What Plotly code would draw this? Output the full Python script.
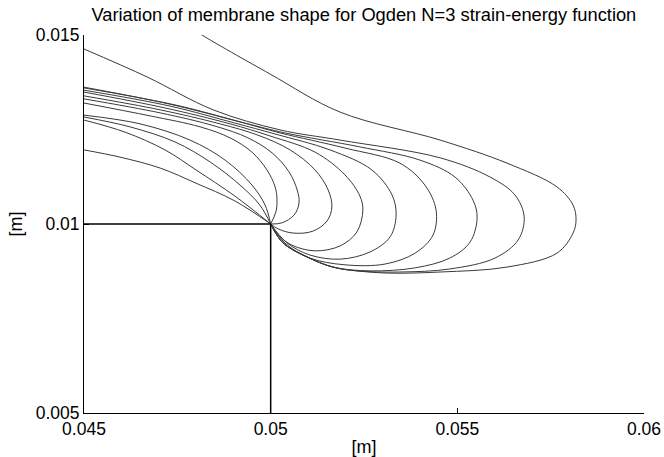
import plotly.graph_objects as go

# Membrane profiles (x [m], y [m]) for increasing inflation
c1_x = [0.04500, 0.04596, 0.04704, 0.04800, 0.04904, 0.05000]
c1_y = [0.01196, 0.01177, 0.01148, 0.01108, 0.01061, 0.01000]

c2_x = [0.04500, 0.04610, 0.04717, 0.04800, 0.04904, 0.05000]
c2_y = [0.01275, 0.01243, 0.01196, 0.01143, 0.01074, 0.01000]

c3_x = [0.04500, 0.04623, 0.04744, 0.04838, 0.04918, 0.04971, 0.05000]
c3_y = [0.01283, 0.01257, 0.01217, 0.01164, 0.01103, 0.01050, 0.01000]

c4_x = [0.04500, 0.04650, 0.04784, 0.04878, 0.04950, 0.04985, 0.05000]
c4_y = [0.01288, 0.01265, 0.01222, 0.01169, 0.01103, 0.01050, 0.01000]

c5_x = [0.04500, 0.04677, 0.04811, 0.04891, 0.04950, 0.04990, 0.05012, 0.05017, 0.05014, 0.05000]
c5_y = [0.01320, 0.01286, 0.01257, 0.01228, 0.01190, 0.01143, 0.01098, 0.01063, 0.01032, 0.01000]

c6_x = [0.04500, 0.04704, 0.04851, 0.04939, 0.05004, 0.05049, 0.05071, 0.05076, 0.05063,
        0.05030, 0.05000]
c6_y = [0.01331, 0.01294, 0.01259, 0.01228, 0.01188, 0.01138, 0.01090, 0.01056, 0.01024,
        0.01003, 0.01000]

c7_x = [0.04500, 0.04704, 0.04864, 0.04966, 0.05052, 0.05119, 0.05154, 0.05164, 0.05151,
        0.05113, 0.05060, 0.05020, 0.05000]
c7_y = [0.01339, 0.01302, 0.01265, 0.01235, 0.01196, 0.01143, 0.01090, 0.01045, 0.01008,
        0.00981, 0.00976, 0.00987, 0.01000]

c8_x = [0.04500, 0.04717, 0.04891, 0.04998, 0.05119, 0.05199, 0.05239, 0.05247, 0.05231,
        0.05186, 0.05119, 0.05057, 0.05020, 0.05000]
c8_y = [0.01349, 0.01307, 0.01265, 0.01233, 0.01190, 0.01130, 0.01074, 0.01037, 0.00979,
        0.00942, 0.00929, 0.00944, 0.00971, 0.01000]

c9_x = [0.04500, 0.04730, 0.04904, 0.05012, 0.05159, 0.05271, 0.05325, 0.05336, 0.05320,
        0.05266, 0.05186, 0.05105, 0.05044, 0.05000]
c9_y = [0.01354, 0.01312, 0.01267, 0.01238, 0.01196, 0.01143, 0.01077, 0.01024, 0.00966,
        0.00926, 0.00907, 0.00918, 0.00950, 0.01000]

c10_x = [0.04500, 0.04730, 0.04918, 0.05025, 0.05199, 0.05346, 0.05413, 0.05443, 0.05435,
         0.05387, 0.05306, 0.05199, 0.05105, 0.05038, 0.05000]
c10_y = [0.01362, 0.01317, 0.01270, 0.01241, 0.01201, 0.01161, 0.01103, 0.01037, 0.00971,
         0.00923, 0.00894, 0.00892, 0.00910, 0.00950, 0.01000]

c11_x = [0.04500, 0.04744, 0.04931, 0.05038, 0.05239, 0.05400, 0.05494, 0.05542, 0.05553,
         0.05534, 0.05480, 0.05387, 0.05266, 0.05167, 0.05097, 0.05033, 0.05000]
c11_y = [0.01360, 0.01315, 0.01267, 0.01241, 0.01204, 0.01169, 0.01124, 0.01063, 0.01016,
         0.00952, 0.00910, 0.00884, 0.00876, 0.00886, 0.00913, 0.00950, 0.01000]

c12_x = [0.04500, 0.04669, 0.04846, 0.05025, 0.05186, 0.05454, 0.05588, 0.05654, 0.05679,
         0.05663, 0.05601, 0.05480, 0.05346, 0.05231, 0.05167, 0.05097, 0.05033, 0.05000]
c12_y = [0.01463, 0.01389, 0.01302, 0.01249, 0.01222, 0.01175, 0.01124, 0.01077, 0.01019,
         0.00958, 0.00910, 0.00881, 0.00873, 0.00876, 0.00886, 0.00913, 0.00950, 0.01000]

c13_x = [0.04797, 0.04816, 0.04998, 0.05186, 0.05454, 0.05633, 0.05767, 0.05810, 0.05818,
         0.05810, 0.05767, 0.05633, 0.05454, 0.05320, 0.05231, 0.05167, 0.05097, 0.05033, 0.05000]
c13_y = [0.01513, 0.01500, 0.01397, 0.01296, 0.01222, 0.01161, 0.01098, 0.01050, 0.01011,
         0.00976, 0.00923, 0.00886, 0.00873, 0.00870, 0.00876, 0.00886, 0.00913, 0.00950, 0.01000]

curves = [(c1_x, c1_y), (c2_x, c2_y), (c3_x, c3_y), (c4_x, c4_y), (c5_x, c5_y),
          (c6_x, c6_y), (c7_x, c7_y), (c8_x, c8_y), (c9_x, c9_y), (c10_x, c10_y),
          (c11_x, c11_y), (c12_x, c12_y), (c13_x, c13_y)]

# Clamp / support lines
clamp_h_x = [0.045, 0.05]
clamp_h_y = [0.01, 0.01]
clamp_v_x = [0.05, 0.05]
clamp_v_y = [0.005, 0.01]

x_ticks = [0.045, 0.05, 0.055, 0.06]
x_ticktext = ["0.045", "0.05", "0.055", "0.06"]
y_ticks = [0.005, 0.01, 0.015]
y_ticktext = ["0.005", "0.01", "0.015"]

FONT = "Liberation Sans, Arial, sans-serif"

fig = go.Figure()
for cx, cy in curves:
    fig.add_trace(go.Scatter(x=cx, y=cy, mode="lines",
                             line=dict(color="#3a3a3a", width=1, shape="spline", smoothing=1.0),
                             showlegend=False, hoverinfo="skip"))
fig.add_trace(go.Scatter(x=clamp_h_x, y=clamp_h_y, mode="lines",
                         line=dict(color="black", width=1.5), showlegend=False))
fig.add_trace(go.Scatter(x=clamp_v_x, y=clamp_v_y, mode="lines",
                         line=dict(color="black", width=1.5), showlegend=False))

fig.update_layout(
    width=664, height=457,
    margin=dict(l=84, r=20, t=35, b=44),
    paper_bgcolor="white", plot_bgcolor="white",
    font=dict(family=FONT, size=17.5, color="black"),
    title=dict(text="Variation of membrane shape for Ogden N=3 strain-energy function",
               x=0.548, xref="container", xanchor="center",
               y=0.967, yref="container", yanchor="middle",
               font=dict(family=FONT, size=18.3, color="black")),
    xaxis=dict(range=[0.045, 0.06], tickvals=x_ticks, ticktext=x_ticktext,
               ticks="inside", ticklen=5, tickcolor="black",
               showline=True, linecolor="black", linewidth=1, mirror=False,
               showgrid=False, zeroline=False, automargin=False,
               tickfont=dict(family=FONT, size=17.5, color="black"),
               title=dict(text="[m]", font=dict(family=FONT, size=18), standoff=2)),
    yaxis=dict(range=[0.005, 0.015], tickvals=y_ticks, ticktext=y_ticktext,
               ticks="inside", ticklen=5, tickcolor="black",
               showline=True, linecolor="black", linewidth=1, mirror=False,
               showgrid=False, zeroline=False, automargin=False,
               tickfont=dict(family=FONT, size=17.5, color="black"),
               title=dict(text="[m]", font=dict(family=FONT, size=18), standoff=8)),
)

fig.write_html("out.html")
